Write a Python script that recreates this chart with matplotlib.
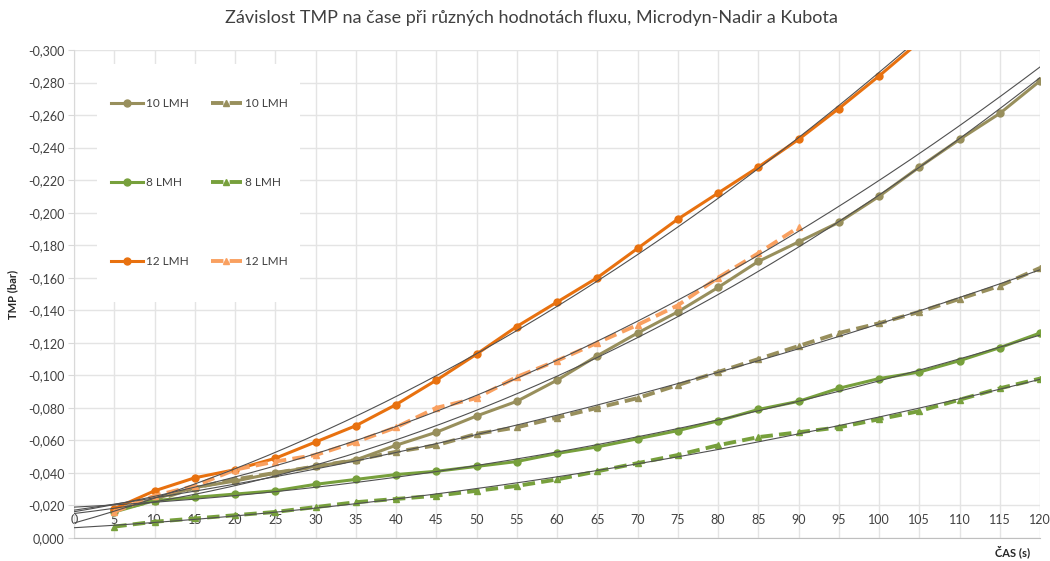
import matplotlib
matplotlib.use("Agg")
import matplotlib.pyplot as plt
import numpy as np
from matplotlib.patches import Rectangle
from matplotlib.ticker import FuncFormatter, MultipleLocator

plt.rcParams['font.family'] = ['Lato', 'DejaVu Sans']

title = "Závislost TMP na čase při různých hodnotách fluxu, Microdyn-Nadir a Kubota"
x_label = "ČAS (s)"
y_label = "TMP (bar)"

t_full = [5, 10, 15, 20, 25, 30, 35, 40, 45, 50, 55, 60, 65, 70, 75, 80, 85, 90,
          95, 100, 105, 110, 115, 120]

# 10 LMH (solid, olive)
s10_a = [-0.017, -0.024, -0.031, -0.035, -0.040, -0.044, -0.048, -0.057, -0.065, -0.075,
         -0.084, -0.097, -0.112, -0.126, -0.139, -0.154, -0.170, -0.182, -0.194, -0.210,
         -0.228, -0.245, -0.261, -0.281]
# 10 LMH (dashed, olive)
s10_b = [-0.017, -0.023, -0.031, -0.036, -0.040, -0.044, -0.048, -0.053, -0.057, -0.064,
         -0.068, -0.074, -0.080, -0.086, -0.094, -0.102, -0.110, -0.118, -0.126, -0.132,
         -0.139, -0.147, -0.155, -0.166]
# 8 LMH (solid, green)
s8_a = [-0.016, -0.023, -0.025, -0.027, -0.029, -0.033, -0.036, -0.039, -0.041, -0.044,
        -0.047, -0.052, -0.056, -0.061, -0.066, -0.072, -0.079, -0.084, -0.092, -0.098,
        -0.102, -0.109, -0.117, -0.126]
# 8 LMH (dashed, green)
s8_b = [-0.007, -0.010, -0.012, -0.014, -0.016, -0.019, -0.022, -0.024, -0.026, -0.029,
        -0.032, -0.036, -0.041, -0.046, -0.051, -0.057, -0.062, -0.065, -0.068, -0.073,
        -0.078, -0.085, -0.092, -0.098]
# 12 LMH (solid, orange)
t12_a = [5, 10, 15, 20, 25, 30, 35, 40, 45, 50, 55, 60, 65, 70, 75, 80, 85, 90, 95, 100, 105]
s12_a = [-0.018, -0.029, -0.037, -0.042, -0.049, -0.059, -0.069, -0.082, -0.097, -0.113,
         -0.130, -0.145, -0.160, -0.178, -0.196, -0.212, -0.228, -0.245, -0.264, -0.284,
         -0.305]
# 12 LMH (dashed, light orange)
t12_b = [5, 10, 15, 20, 25, 30, 35, 40, 45, 50, 55, 60, 65, 70, 75, 80, 85, 90]
s12_b = [-0.016, -0.026, -0.032, -0.042, -0.047, -0.051, -0.059, -0.068, -0.080, -0.086,
         -0.099, -0.109, -0.120, -0.131, -0.143, -0.160, -0.175, -0.191]

labels = ["10 LMH", "10 LMH", "8 LMH", "8 LMH", "12 LMH", "12 LMH"]
x_ticks = list(range(0, 121, 5))

c_olive = "#988F5C"
c_green = "#77A03C"
c_green2 = "#77A03C"
c_orange = "#E8710F"
c_orange2 = "#F9A060"

W, H = 1050, 561
L, R, T, B = 74, 1040, 50, 538
fig = plt.figure(figsize=(10.5, 5.61), dpi=100)
ax = fig.add_axes([L/W, 1-B/H, (R-L)/W, (B-T)/H])
aw, ah = R - L, B - T

grid_c = "#E4E4E4"
ax.set_xlim(0, 120)
ax.set_ylim(0, -0.300)
ax.xaxis.set_major_locator(MultipleLocator(5))
ax.yaxis.set_major_locator(MultipleLocator(0.02))
ax.grid(True, color=grid_c, lw=1.0, zorder=0)
ax.set_axisbelow(True)

for sp in ["top", "right"]:
    ax.spines[sp].set_visible(False)
ax.spines["left"].set_color("#D9D9D9")
ax.spines["bottom"].set_color("#BFBFBF")

ax.yaxis.set_major_formatter(FuncFormatter(lambda v, p: ("%.3f" % v).replace(".", ",").replace("-0,000", "0,000")))
ax.tick_params(axis='y', length=4, color="#D9D9D9", labelsize=9, labelcolor="#404040", pad=3)
ax.tick_params(axis='x', length=0, labelsize=9, labelcolor="#404040", pad=-17)
ax.set_xticks(x_ticks)

series = [
    (t_full, s10_a, c_olive, "-", "o", 2.2),
    (t_full, s10_b, c_olive, "--", "^", 2.8),
    (t_full, s8_a, c_green, "-", "o", 2.2),
    (t_full, s8_b, c_green2, "--", "^", 2.8),
    (t12_a, s12_a, c_orange, "-", "o", 2.2),
    (t12_b, s12_b, c_orange2, "--", "^", 2.8),
]

handles = []
xx = np.linspace(0, 120, 300)
for (tx, ty, col, ls, mk, lw), lab in zip(series, labels):
    if ls == "--":
        ln, = ax.plot(tx, ty, color=col, lw=lw, marker=mk, ms=5, dashes=(3.2, 1.6),
                      dash_capstyle="butt", zorder=3, clip_on=True)
    else:
        ln, = ax.plot(tx, ty, color=col, lw=lw, marker=mk, ms=5, zorder=3, clip_on=True)
    handles.append(ln)
    coef = np.polyfit(tx, ty, 2)
    ax.plot(xx, np.polyval(coef, xx), color="#505050", lw=0.8, zorder=4)

# white legend background area
ax.add_patch(Rectangle(((97-L)/aw, 1-(302-T)/ah), (300-97)/aw, (302-64)/ah,
                       transform=ax.transAxes, facecolor="white", edgecolor="none", zorder=1))

order = [0, 2, 4, 1, 3, 5]
leg = ax.legend([handles[i] for i in order], [labels[i] for i in order], ncol=2,
                loc="upper left", bbox_to_anchor=((111-L)/aw, 1-(98-T)/ah), frameon=False,
                fontsize=8.5, labelspacing=5.75, handlelength=2.7, handletextpad=0.25,
                columnspacing=1.85, borderpad=0.0, borderaxespad=0.0, labelcolor="#404040")
leg.set_zorder(5)

ax.set_ylabel(y_label, fontsize=8, fontweight="bold", color="#262626")
ax.yaxis.set_label_coords((18-L)/aw, 0.5)
fig.text(1030/W, 1-552/H, x_label, fontsize=8, fontweight="bold", color="#262626",
         ha="right", va="center")
fig.text(531/W, 1-18/H, title, fontsize=13, color="#404040", ha="center", va="center")

fig.savefig("out.png", dpi=100)
